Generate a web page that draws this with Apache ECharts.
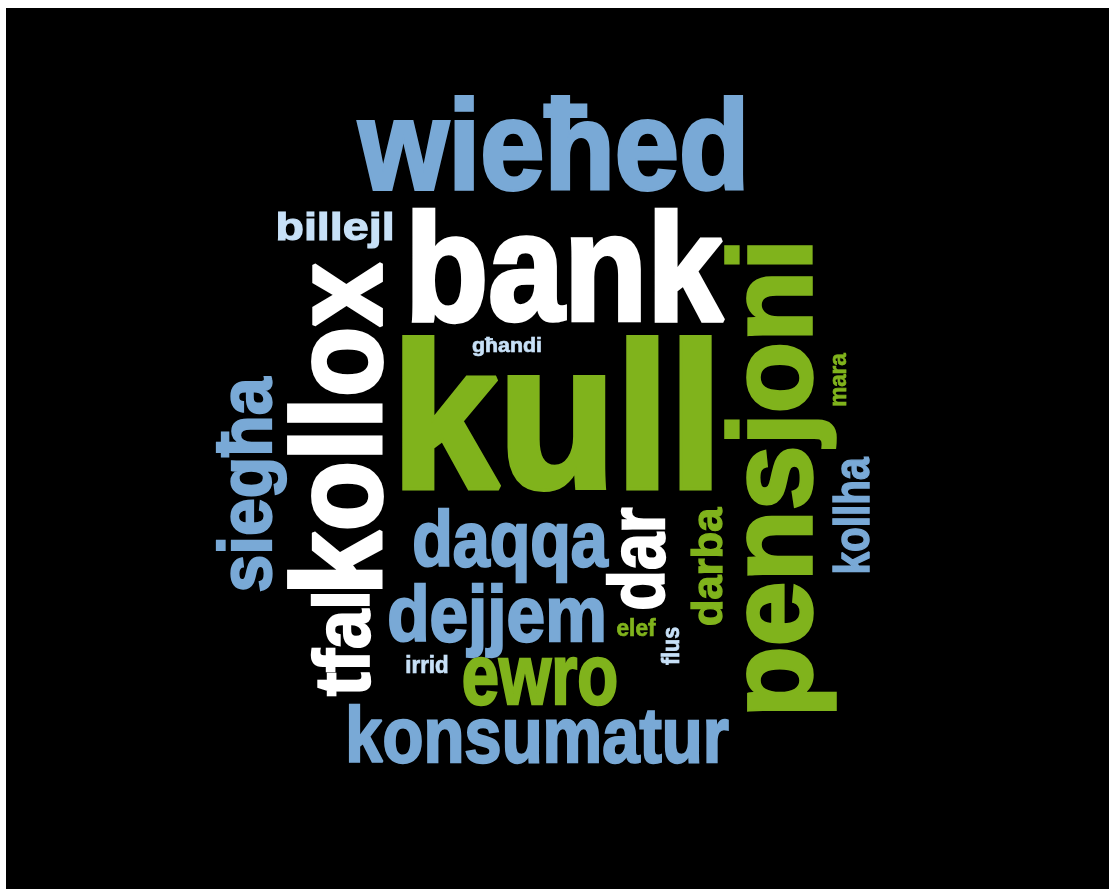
<!DOCTYPE html>
<html>
<head>
<meta charset="utf-8">
<script src="https://cdn.jsdelivr.net/npm/echarts@6/dist/echarts.min.js"></script>
<style>
html,body{margin:0;padding:0;background:#ffffff;}
#chart{position:absolute;left:6px;top:8px;width:1103px;height:881px;}
</style>
</head>
<body>
<div id="chart"></div>
<script>
// ---- data ----
const words   = ['kull','bank','wieħed','kollox','pensjoni','konsumatur','ewro','dejjem','daqqa','tfal','dar','siegħa','kollha','darba','billejl','mara','irrid','elef','flus','għandi'];
const weights = [206, 153, 127, 127, 117, 78, 86, 77, 77, 77, 77, 74, 50, 43, 39, 24, 23, 23, 23, 20];
const groups  = ['g','w','b','w','g','b','g','b','b','w','w','b','b','g','l','g','l','g','l','l'];

// ---- layout (word-cloud placement: centre x, centre y, length along reading direction, orientation) ----
const layout = [
  [557, 430, 310, 0],
  [564, 278, 314, 0],
  [554, 154, 388, 0],
  [346, 429, 328, 90],
  [779, 478, 468, 90],
  [537, 740, 381, 0],
  [540, 680, 154, 0],
  [497, 620, 215, 0],
  [510, 545, 196, 0],
  [348, 643, 103, 90],
  [643, 559, 102, 90],
  [251, 485, 216, 90],
  [855, 516, 117, 90],
  [710, 567, 120, 90],
  [335, 229, 116, 0],
  [839, 380, 54, 90],
  [427, 667, 42, 0],
  [636, 630, 40, 0],
  [673, 646, 38, 90],
  [507, 346, 70, 0]
];

// ---- styles ----
const palette = { b: '#79a9d6', g: '#80b31c', w: '#ffffff', l: '#c7e0f7' };
const FONT = '"Liberation Sans", Arial, sans-serif';

const mctx = document.createElement('canvas').getContext('2d');
function inkWidth(text, size) {
  mctx.font = 'bold ' + size + 'px ' + FONT;
  const m = mctx.measureText(text);
  const w = (m.actualBoundingBoxLeft || 0) + (m.actualBoundingBoxRight || 0);
  return w > 0 ? w : m.width;
}

const seriesData = words.map((w, i) => [layout[i][0], layout[i][1], i]);

const chart = echarts.init(document.getElementById('chart'));
chart.setOption({
  backgroundColor: '#000000',
  animation: false,
  grid: { left: 0, right: 0, top: 0, bottom: 0 },
  xAxis: { type: 'value', min: 6, max: 1109, show: false },
  yAxis: { type: 'value', min: 8, max: 889, inverse: true, show: false },
  series: [{
    type: 'custom',
    silent: true,
    data: seriesData,
    renderItem: function (params, api) {
      const i = api.value(2);
      const p = api.coord([api.value(0), api.value(1)]);
      const size = weights[i];
      const lw = size * 0.03;
      const sx = layout[i][2] / (inkWidth(words[i], size) + lw);
      const color = palette[groups[i]];
      return {
        type: 'text',
        x: p[0],
        y: p[1],
        rotation: layout[i][3] * Math.PI / 180,
        scaleX: sx,
        scaleY: 1,
        style: {
          text: words[i],
          fontSize: size,
          fontFamily: FONT,
          fontWeight: 'bold',
          fill: color,
          stroke: color,
          lineWidth: lw,
          lineJoin: 'round',
          align: 'center',
          verticalAlign: 'middle'
        }
      };
    }
  }]
});
</script>
</body>
</html>
